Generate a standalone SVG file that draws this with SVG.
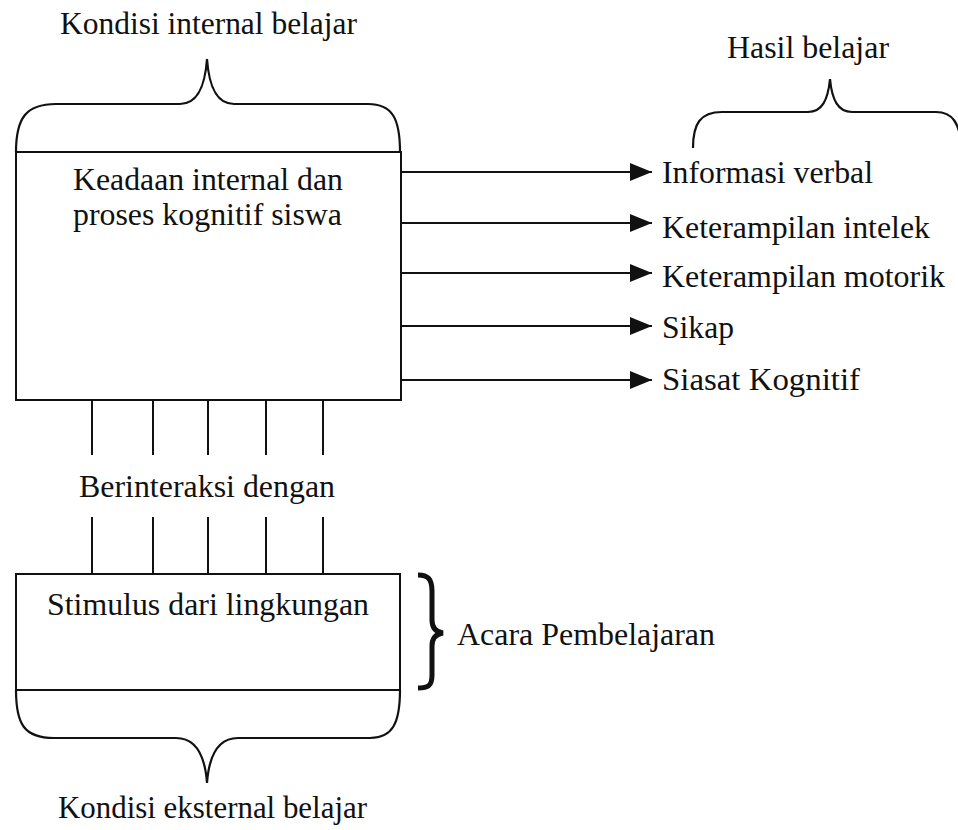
<svg xmlns="http://www.w3.org/2000/svg" width="958" height="830" viewBox="0 0 958 830">
<defs>
<style>
text{font-family:"Liberation Serif","Times New Roman",serif;font-size:32px;fill:#111}
.ln{fill:none;stroke:#111;stroke-width:2}
.br{fill:none;stroke:#111;stroke-width:2.2}
</style>
<marker id="ah" markerUnits="userSpaceOnUse" markerWidth="24" markerHeight="20" refX="22" refY="9" orient="auto">
<path d="M0,0 L22,9 L0,18 Z" fill="#111"/>
</marker>
</defs>
<rect width="958" height="830" fill="#fff"/>

<g id="internal-label">
<text x="60" y="34" textLength="297" lengthAdjust="spacingAndGlyphs">Kondisi internal belajar</text>
<path class="br" d="M16,152 C16,118 26,104 56,104 L180,104 C198,104 205,86 207,59 C209,86 216,104 234,104 L368,104 C392,104 400,118 400,152"/>
</g>

<g id="internal-box">
<rect class="ln" x="16" y="152" width="385" height="248"/>
<text x="73" y="190" textLength="270" lengthAdjust="spacingAndGlyphs">Keadaan internal dan</text>
<text x="73" y="225" textLength="269" lengthAdjust="spacingAndGlyphs">proses kognitif siswa</text>
</g>

<g id="hasil-label">
<text x="727" y="58" textLength="162" lengthAdjust="spacingAndGlyphs">Hasil belajar</text>
<path class="br" d="M693,148 C693,124 700,112 722,112 L808,112 C822,112 828,100 830,79 C832,100 838,112 852,112 L936,112 C952,112 960,122 962,150"/>
</g>

<g id="outcomes">
<text x="662" y="183" textLength="211" lengthAdjust="spacingAndGlyphs">Informasi verbal</text>
<text x="662" y="238" textLength="268" lengthAdjust="spacingAndGlyphs">Keterampilan intelek</text>
<text x="662" y="287" textLength="283" lengthAdjust="spacingAndGlyphs">Keterampilan motorik</text>
<text x="662" y="338" textLength="72" lengthAdjust="spacingAndGlyphs">Sikap</text>
<text x="662" y="390" textLength="198" lengthAdjust="spacingAndGlyphs">Siasat Kognitif</text>
</g>

<g id="connectors">
<line class="ln" x1="401" y1="172" x2="652" y2="172" marker-end="url(#ah)"/>
<line class="ln" x1="401" y1="223" x2="652" y2="223" marker-end="url(#ah)"/>
<line class="ln" x1="401" y1="273" x2="652" y2="273" marker-end="url(#ah)"/>
<line class="ln" x1="401" y1="326" x2="652" y2="326" marker-end="url(#ah)"/>
<line class="ln" x1="401" y1="380" x2="652" y2="380" marker-end="url(#ah)"/>
<line class="ln" x1="92" y1="400" x2="92" y2="455"/>
<line class="ln" x1="153" y1="400" x2="153" y2="455"/>
<line class="ln" x1="208" y1="400" x2="208" y2="455"/>
<line class="ln" x1="266" y1="400" x2="266" y2="455"/>
<line class="ln" x1="323" y1="400" x2="323" y2="455"/>
<line class="ln" x1="92" y1="517" x2="92" y2="574"/>
<line class="ln" x1="153" y1="517" x2="153" y2="574"/>
<line class="ln" x1="208" y1="517" x2="208" y2="574"/>
<line class="ln" x1="266" y1="517" x2="266" y2="574"/>
<line class="ln" x1="323" y1="517" x2="323" y2="574"/>
</g>

<g id="interaksi-label">
<text x="79" y="497" textLength="256" lengthAdjust="spacingAndGlyphs">Berinteraksi dengan</text>
</g>

<g id="stimulus-box">
<rect class="ln" x="16" y="574" width="384" height="116"/>
<text x="47" y="615" textLength="322" lengthAdjust="spacingAndGlyphs">Stimulus dari lingkungan</text>
</g>

<g id="acara-label">
<path fill="none" stroke="#111" stroke-width="5" d="M418,575 C428,575 432,579 432,591 L432,620 C432,628 436,632 443,633 C436,634 432,638 432,646 L432,675 C432,686 428,688 418,688"/>
<text x="457" y="645" textLength="258" lengthAdjust="spacingAndGlyphs">Acara Pembelajaran</text>
</g>

<g id="external-label">
<path class="br" d="M16,690 C16,724 24,738 54,738 L176,738 C196,738 205,756 207,783 C209,756 218,738 238,738 L370,738 C392,738 400,724 400,690"/>
<text x="58" y="818" textLength="309" lengthAdjust="spacingAndGlyphs">Kondisi eksternal belajar</text>
</g>
</svg>
